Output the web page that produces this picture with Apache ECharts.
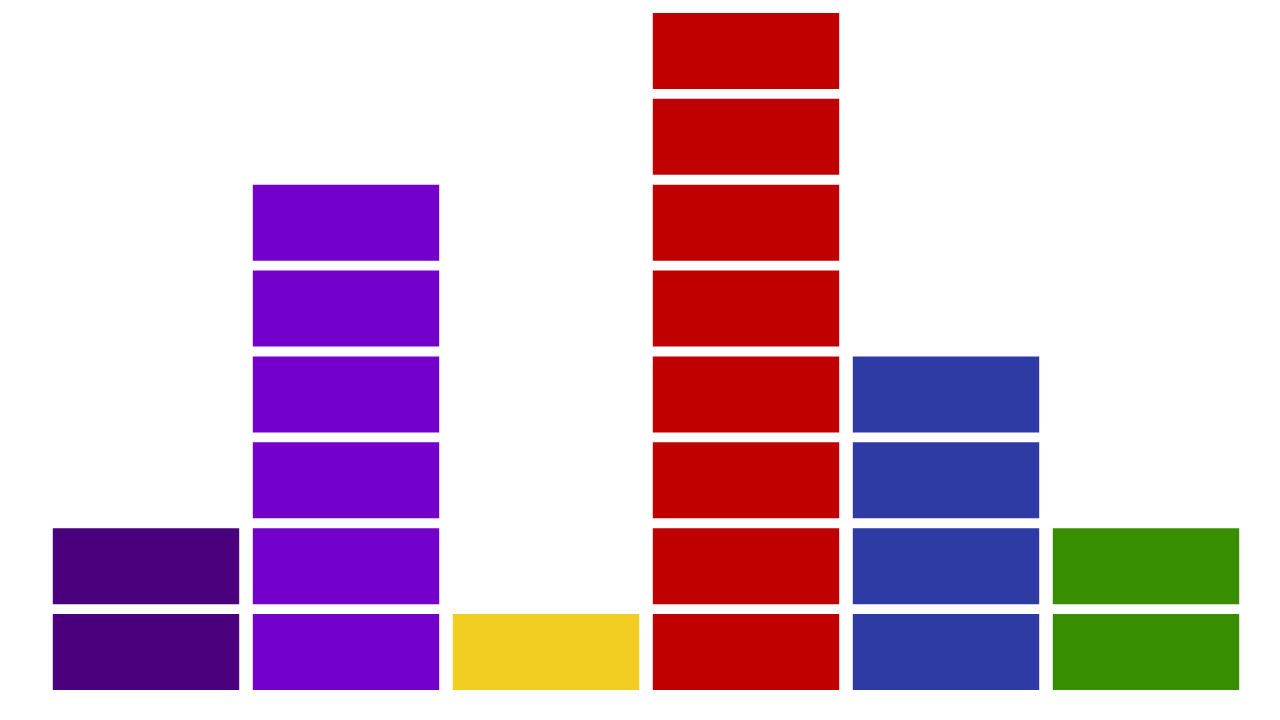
<!DOCTYPE html>
<html>
<head>
<meta charset="utf-8">
<script src="https://cdn.jsdelivr.net/npm/echarts@6/dist/echarts.min.js"></script>
<style>html,body{margin:0;padding:0;background:#fff}#c{width:1280px;height:720px}</style>
</head>
<body>
<div id="c"></div>
<script>
var categories = ['A', 'B', 'C', 'D', 'E', 'F'];
var counts = [2, 6, 1, 8, 4, 2];
var colors = ['#4A007D', '#7400CC', '#F2CE22', '#C00000', '#2E3BA5', '#388E00'];

var blocks = [];
counts.forEach(function (n, i) {
  for (var k = 1; k <= n; k++) blocks.push([i, k]);
});

var chart = echarts.init(document.getElementById('c'), null, {renderer: 'canvas'});
chart.setOption({
  animation: false,
  grid: {left: 46, right: 34, top: 3, bottom: 30, containLabel: false},
  xAxis: {type: 'category', data: categories, show: false},
  yAxis: {type: 'value', min: 0, max: 8, show: false},
  series: [{
    type: 'custom',
    data: blocks,
    encode: {x: 0, y: 1},
    renderItem: function (params, api) {
      var ci = api.value(0), lv = api.value(1);
      var pb = api.coord([ci, lv - 1]);
      var pt = api.coord([ci, lv]);
      var bw = api.size([1, 0])[0] * 0.932;
      var h = (pb[1] - pt[1]) * 0.885;
      return {
        type: 'rect',
        shape: {x: pb[0] - bw / 2, y: pb[1] - h, width: bw, height: h},
        style: {fill: colors[ci]}
      };
    }
  }]
});
</script>
</body>
</html>
